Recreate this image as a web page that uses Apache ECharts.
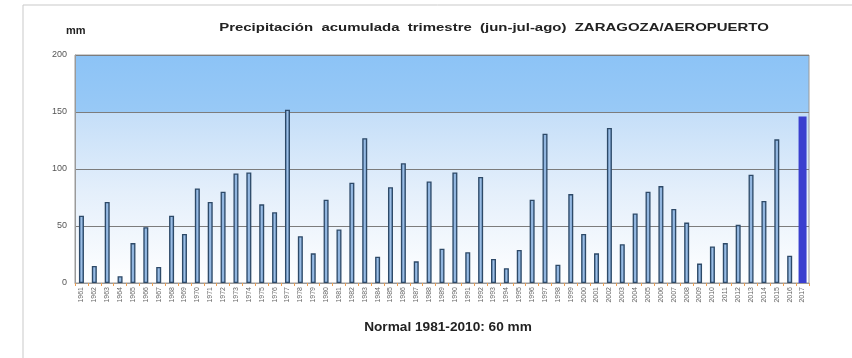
<!DOCTYPE html>
<html>
<head>
<meta charset="utf-8">
<script src="https://cdn.jsdelivr.net/npm/echarts@6/dist/echarts.min.js"></script>
<style>
  html, body { margin: 0; padding: 0; background: #ffffff; }
  #chart { width: 852px; height: 358px; }
</style>
</head>
<body>
<div id="chart"></div>
<script>
// Summer (Jun-Jul-Aug) accumulated precipitation, Zaragoza airport, mm
const years = [];
for (let y = 1961; y <= 2017; y++) years.push(String(y));

const rainfall = [
  59, 15, 71, 6, 35, 49, 14, 59, 43, 83,
  71, 80, 96, 97, 69, 62, 152, 41, 26, 73,
  47, 88, 127, 23, 84, 105, 19, 89, 30, 97,
  27, 93, 21, 13, 29, 73, 131, 16, 78, 43,
  26, 136, 34, 61, 80, 85, 65, 53, 17, 32,
  35, 51, 95, 72, 126, 24, 146
];

const yTicks = { min: 0, max: 200, interval: 50 };

const titleText = 'Precipitación  acumulada  trimestre  (jun-jul-ago)  ZARAGOZA/AEROPUERTO';
const normalText = 'Normal 1981-2010: 60 mm';

// past summers as outlined bars; the latest summer as a wider solid blue bar
const lastIdx = rainfall.length - 1;
const pastData = rainfall.map((v, i) => (i === lastIdx ? '-' : v));
const latestData = rainfall.map((v, i) => (i === lastIdx ? v : '-'));

const chart = echarts.init(document.getElementById('chart'), null, { renderer: 'canvas' });

chart.setOption({
  animation: false,
  backgroundColor: '#ffffff',
  grid: {
    left: 75, right: 43, top: 55, bottom: 75,
    show: true,
    borderColor: '#9a9a9a',
    borderWidth: 1,
    backgroundColor: new echarts.graphic.LinearGradient(0, 0, 0, 1, [
      { offset: 0, color: '#8cc3f6' },
      { offset: 0.249, color: '#98c9f6' },
      { offset: 0.251, color: '#c4def8' },
      { offset: 0.6, color: '#e4effb' },
      { offset: 1, color: '#ffffff' }
    ])
  },
  graphic: [
    { type: 'line', shape: { x1: 23, y1: 5, x2: 852, y2: 5 }, style: { stroke: '#c9c9c9', lineWidth: 1 } },
    { type: 'line', shape: { x1: 23, y1: 5, x2: 23, y2: 358 }, style: { stroke: '#c9c9c9', lineWidth: 1 } },
    { type: 'text', x: 66, y: 31,
      style: { text: 'mm', font: 'bold 11px "Liberation Sans", Arial, sans-serif', fill: '#222',
               textVerticalAlign: 'middle' } },
    { type: 'text', x: 494, y: 28, scaleX: 1.3,
      style: { text: titleText, font: 'bold 11.5px "Liberation Sans", Arial, sans-serif', fill: '#222',
               textAlign: 'center', textVerticalAlign: 'middle' } },
    { type: 'text', x: 448, y: 327, scaleX: 1.05,
      style: { text: normalText, font: 'bold 13px "Liberation Sans", Arial, sans-serif', fill: '#222',
               textAlign: 'center', textVerticalAlign: 'middle' } }
  ],
  xAxis: {
    type: 'category',
    data: years,
    boundaryGap: true,
    axisLine: { show: true, lineStyle: { color: '#9a9a9a' } },
    axisTick: { show: true, alignWithLabel: false, length: 3, lineStyle: { color: '#f0a050' } },
    axisLabel: {
      interval: 0, rotate: 90, fontSize: 7, color: '#666',
      fontFamily: '"Liberation Sans", Arial, sans-serif', margin: 4
    }
  },
  yAxis: {
    type: 'value',
    min: yTicks.min, max: yTicks.max, interval: yTicks.interval,
    axisLine: { show: true, lineStyle: { color: '#9a9a9a' } },
    axisTick: { show: false },
    axisLabel: { fontSize: 9, color: '#555', fontFamily: '"Liberation Sans", Arial, sans-serif', margin: 8 },
    splitLine: { show: true, lineStyle: { color: '#7c7c7c', width: 1 } }
  },
  series: [
    {
      type: 'bar',
      data: pastData,
      barWidth: 5,
      itemStyle: {
        color: new echarts.graphic.LinearGradient(0, 0, 1, 0, [
          { offset: 0, color: '#5f8cbf' },
          { offset: 0.5, color: '#9dbfe6' },
          { offset: 1, color: '#5f8cbf' }
        ]),
        borderColor: '#2e4a68',
        borderWidth: 1.3
      }
    },
    {
      type: 'pictorialBar',
      data: latestData,
      symbol: 'rect',
      symbolSize: [8, '100%'],
      symbolPosition: 'start',
      itemStyle: { color: '#3a3fcf' },
      z: 3
    }
  ]
});
</script>
</body>
</html>
